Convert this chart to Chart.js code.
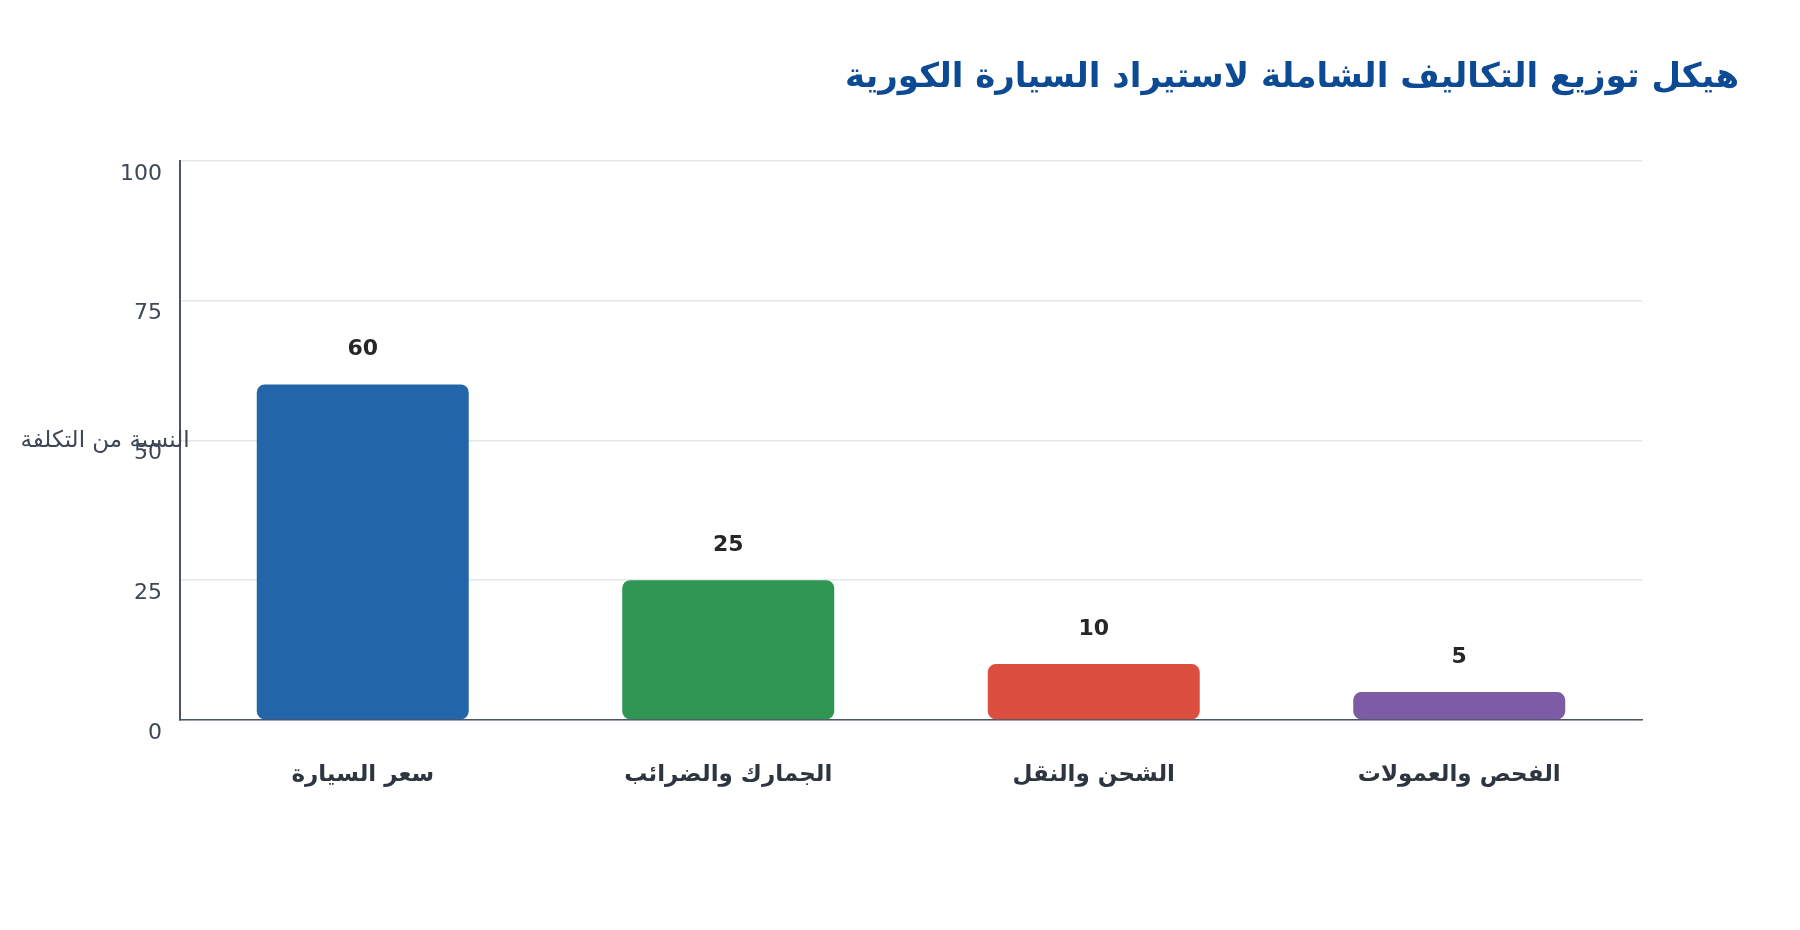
<!DOCTYPE html>
<html lang="ar">
<head>
<meta charset="utf-8">
<title>هيكل توزيع التكاليف</title>
<script src="https://cdn.jsdelivr.net/npm/chart.js@4.4.1/dist/chart.umd.min.js"></script>
<style>
  html, body { margin: 0; padding: 0; background: #ffffff; }
  #wrap { width: 1800px; height: 930px; position: relative; }
</style>
</head>
<body>
<div id="wrap"><canvas id="myChart"></canvas></div>
<script>
// chart data
const categories = ["سعر السيارة", "الجمارك والضرائب", "الشحن والنقل", "الفحص والعمولات"];
const shares = [60, 25, 10, 5];
const barColors = ["#2365a9", "#2e9552", "#dc4f3f", "#7d5ba5"];
const yTicks = [0, 25, 50, 75, 100];

const chartTitle = "هيكل توزيع التكاليف الشاملة لاستيراد السيارة الكورية";
const yTitle = "النسبة من التكلفة";

const FONT = "'DejaVu Sans', 'Noto Sans', sans-serif";

// value labels above the bars
const valueLabels = {
    id: "valueLabels",
    afterDatasetsDraw(chart) {
        const ctx = chart.ctx;
        const meta = chart.getDatasetMeta(0);
        ctx.save();
        ctx.font = "bold 22px " + FONT;
        ctx.fillStyle = "#262626";
        ctx.textAlign = "center";
        ctx.textBaseline = "middle";
        meta.data.forEach((bar, i) => {
            ctx.fillText(String(shares[i]), bar.x, bar.y - 35);
        });
        ctx.restore();
    },
};

// horizontal y axis title on the left
const sideTitle = {
    id: "sideTitle",
    afterDraw(chart) {
        const ctx = chart.ctx;
        const area = chart.chartArea;
        ctx.save();
        ctx.font = "23px " + FONT;
        ctx.fillStyle = "#3d4756";
        ctx.textAlign = "center";
        ctx.textBaseline = "middle";
        ctx.fillText(yTitle, area.left - 75, (area.top + area.bottom) / 2 + 1);
        ctx.restore();
    },
};

const ctx = document.getElementById("myChart").getContext("2d");
const myChart = new Chart(ctx, {
    type: "bar",
    data: {
        labels: categories,
        datasets: [
            {
                data: shares,
                backgroundColor: barColors,
                borderRadius: 8,
                borderSkipped: false,
                barPercentage: 0.58,
                categoryPercentage: 1,
            },
        ],
    },
    options: {
        responsive: true,
        maintainAspectRatio: false,
        devicePixelRatio: 1,
        animation: false,
        layout: { padding: { top: 0, right: 61, bottom: 0, left: 0 } },
        plugins: {
            legend: { display: false },
            tooltip: { enabled: false },
            title: {
                display: true,
                text: chartTitle,
                align: "end",
                color: "#0d4a94",
                font: { family: FONT, size: 34, weight: "bold" },
                padding: { top: 58, bottom: 62 },
            },
        },
        scales: {
            x: {
                grid: { display: false, drawTicks: false },
                border: { display: true, color: "#4a5568", width: 1.5 },
                ticks: {
                    color: "#2d3540",
                    font: { family: FONT, size: 23, weight: "bold" },
                    padding: 41,
                },
                afterFit: (scale) => { scale.height = 210; },
            },
            y: {
                min: 0,
                max: 100,
                afterBuildTicks: (scale) => {
                    scale.ticks = yTicks.map((v) => ({ value: v }));
                },
                grid: { color: "#e3e6ea", lineWidth: 1.5, drawTicks: false },
                border: { display: true, color: "#4a5568", width: 2 },
                ticks: {
                    color: "#3d4756",
                    font: { family: FONT, size: 22 },
                    padding: 18,
                    labelOffset: 13,
                },
                afterFit: (scale) => { scale.width = 180; },
            },
            spacer: {
                type: "linear",
                position: "right",
                display: true,
                grid: { display: false, drawTicks: false },
                border: { display: false },
                ticks: { display: false },
                afterFit: (scale) => { scale.width = 97; },
            },
        },
    },
    plugins: [valueLabels, sideTitle],
});
</script>
</body>
</html>
